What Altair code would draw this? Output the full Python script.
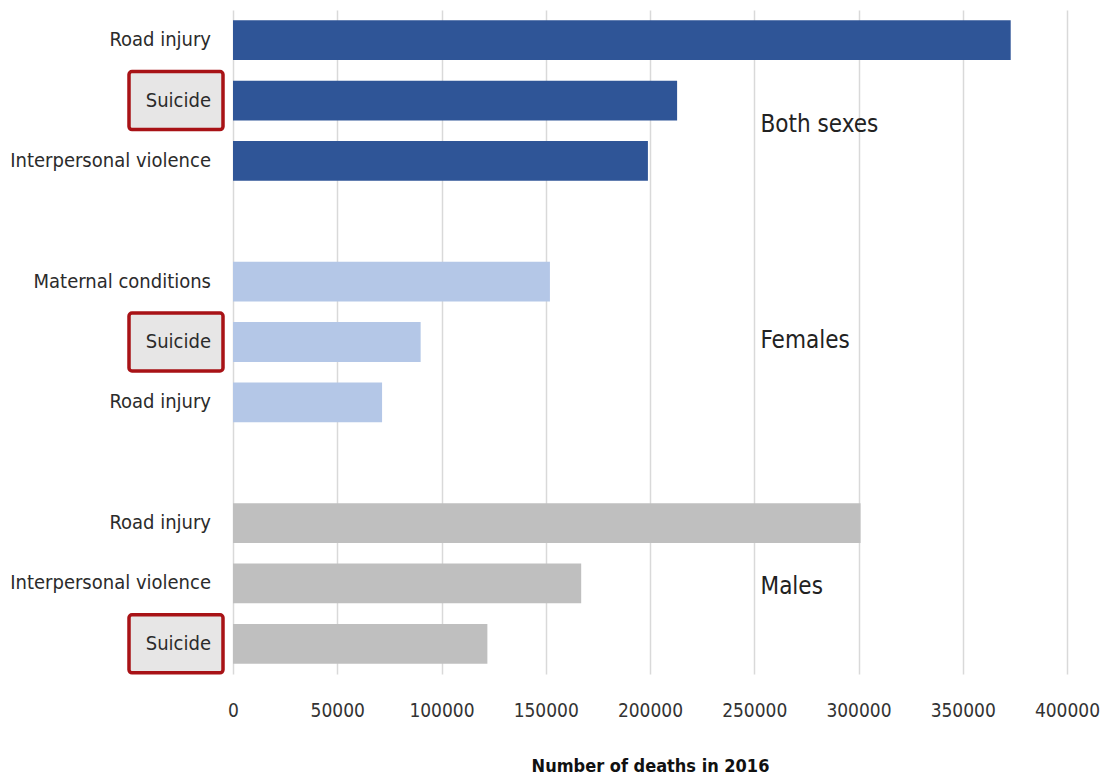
import altair as alt
import pandas as pd

# ---- data ----
categories = ["Road injury", "Suicide", "Interpersonal violence",
              "Maternal conditions", "Suicide", "Road injury",
              "Road injury", "Interpersonal violence", "Suicide"]
groups = ["Both sexes"] * 3 + ["Females"] * 3 + ["Males"] * 3
deaths = [373000, 213000, 199000, 152000, 90000, 71500, 301000, 167000, 122000]
row_keys = ["r0", "r1", "r2", "r3", "r4", "r5", "r6", "r7", "r8"]
slot_order = ["r0", "r1", "r2", "gap1", "r3", "r4", "r5", "gap2", "r6", "r7", "r8"]

group_names = ["Both sexes", "Females", "Males"]
group_colors = ["#2F5597", "#B4C7E7", "#BFBFBF"]
group_label_rows = ["r1", "r4", "r7"]
group_label_x = [253000, 253000, 253000]
group_label_dy = [24, -1, 4]

tick_values = [0, 50000, 100000, 150000, 200000, 250000, 300000, 350000, 400000]

df = pd.DataFrame({"key": row_keys, "category": categories,
                   "group": groups, "deaths": deaths})
df["highlight"] = df["category"] == "Suicide"

FONT = "Liberation Sans Narrow, DejaVu Sans Condensed, Lato"

y_enc = alt.Y("key:N", sort=slot_order,
              scale=alt.Scale(domain=slot_order, paddingInner=0.34, paddingOuter=0.17),
              axis=None)

bars = alt.Chart(df).mark_bar().encode(
    x=alt.X("deaths:Q",
            scale=alt.Scale(domain=[0, 400000], nice=False),
            axis=alt.Axis(values=tick_values, format="d", title="Number of deaths in 2016",
                          grid=True, gridColor="#D9D9D9", gridWidth=1.5,
                          domain=False, ticks=False, labelOverlap=False, labelFlush=False,
                          labelFont=FONT, labelFontSize=19, labelColor="#333333",
                          labelPadding=27,
                          titleFont=FONT, titleFontSize=18, titleFontWeight="bold",
                          titleColor="#111111", titlePadding=37)),
    y=y_enc,
    color=alt.Color("group:N", scale=alt.Scale(domain=group_names, range=group_colors),
                    legend=None),
)

boxes = alt.Chart(df).transform_filter(alt.datum.highlight).mark_bar(
    size=58, fill="#E7E6E6", stroke="#A81216", strokeWidth=3.5, cornerRadius=3
).encode(
    x=alt.value(-104), x2=alt.value(-10), y=y_enc,
)

labels = alt.Chart(df).mark_text(
    align="right", baseline="middle", font=FONT, fontSize=20, color="#2B2B2B"
).encode(
    x=alt.value(-22), y=y_enc, text="category:N",
)

glab_df = pd.DataFrame({"key": group_label_rows, "name": group_names,
                        "x": group_label_x, "dy": group_label_dy})
glabs = []
for i in range(len(group_names)):
    glabs.append(
        alt.Chart(glab_df.iloc[[i]]).mark_text(
            align="left", baseline="middle", font=FONT, fontSize=24,
            color="#222222", dy=group_label_dy[i]
        ).encode(x="x:Q", y=y_enc, text="name:N")
    )

chart = alt.layer(bars, boxes, labels, *glabs).properties(
    width=834, height=664,
    padding={"top": 10, "left": 10, "right": 5, "bottom": 5},
).configure_view(stroke=None)

chart.save("out.html", embed_options={"renderer": "svg", "actions": False})
